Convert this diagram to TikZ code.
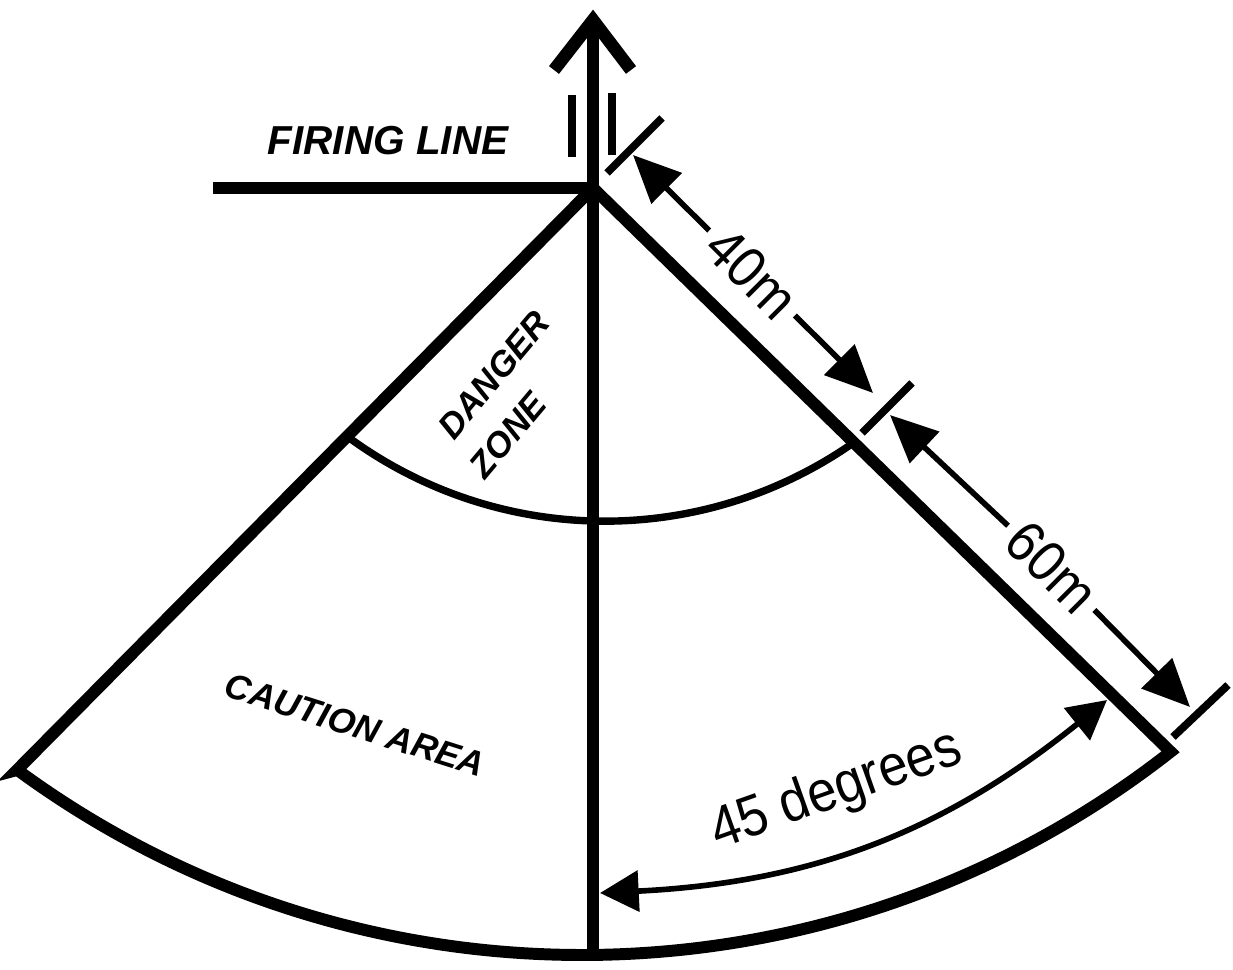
\documentclass[tikz,border=0pt]{standalone}
\usepackage{fontspec}
\setmainfont{Liberation Sans}
\usepackage{tikz}
\usetikzlibrary{arrows.meta}
\newcommand{\narrowtxt}[1]{\scalebox{0.9}[1]{#1}}
\tikzset{
  sectoredge/.style={line width=3.4pt, line join=miter},
  axisline/.style={line width=3.6pt, line join=miter},
  zonearc/.style={line width=2.1pt},
  tickmark/.style={line width=2.2pt},
  dimflow/.style={-{Triangle[length=13.5pt, width=12pt]}, line width=1.6pt},
  angleflow/.style={{Triangle[length=11pt, width=11.5pt]}-{Triangle[length=11pt, width=11.5pt]}, line width=1.6pt},
  arealbl/.style={font=\fontsize{10}{12}\selectfont\bfseries\itshape, inner sep=0pt},
  firinglbl/.style={font=\fontsize{11.5}{13}\selectfont\bfseries\itshape, inner sep=0pt},
  dimlbl/.style={font=\fontsize{16.5}{19}\selectfont, inner sep=2.5pt}
}

\begin{document}
\begin{tikzpicture}[x=0.01cm, y=0.01cm]
\useasboundingbox (0,0) rectangle (1233,-970);

% sector outline and danger zone boundary
\coordinate (apex) at (593,-188);
\coordinate (cL) at (17,-770);
\coordinate (cR) at (1170.6,-751.8);
\coordinate (zL) at (348,-437);
\draw[sectoredge] (cL) -- (apex) -- (cR) arc[start angle=308.1, end angle=233.7, radius=953.9] -- cycle;
\draw[zonearc] (zL) arc[start angle=233.7, end angle=304.9, radius=433.7];

% centre line with arrow
\coordinate (top) at (593,-20);
\coordinate (bottom) at (593,-955);
\coordinate (headL) at (554,-70);
\coordinate (headR) at (631,-70);
\draw[axisline] (top) -- (bottom);
\draw[axisline] (headL) -- (top) -- (headR);
\draw[tickmark, line width=2pt] (572,-95) -- (572,-157);
\draw[tickmark, line width=2pt] (612,-93) -- (612,-155);

% firing line
\coordinate (fireL) at (213,-188);
\draw[sectoredge] (fireL) -- (apex);
\node[firinglbl] (firing) at (388,-141) {FIRING LINE};

\node[arealbl, rotate=50] (danger) at (494,-375) {DANGER};
\node[arealbl, rotate=50] (zone) at (508,-435) {ZONE};
\node[arealbl, rotate=-17.6] (caution) at (355,-725) {CAUTION AREA};

% distances along the edge
\coordinate (t1a) at (607,-173);
\coordinate (t1b) at (662,-118);
\coordinate (t2a) at (862,-433);
\coordinate (t2b) at (912,-383);
\coordinate (t3a) at (1173,-737);
\coordinate (t3b) at (1228,-685);
\draw[tickmark] (t1a) -- (t1b);
\draw[tickmark] (t2a) -- (t2b);
\draw[tickmark] (t3a) -- (t3b);

\coordinate (d40a) at (633,-155);
\coordinate (d40b) at (873,-393);
\coordinate (d60a) at (890,-415);
\coordinate (d60b) at (1190,-707);
\node[dimlbl, rotate=-45] (len40) at (752,-273) {\narrowtxt{40m}};
\node[dimlbl, rotate=-45] (len60) at (1052,-567) {\narrowtxt{60m}};
\draw[dimflow] (len40) -- (d40a);
\draw[dimflow] (len40) -- (d40b);
\draw[dimflow] (len60) -- (d60a);
\draw[dimflow] (len60) -- (d60b);

% angle
\coordinate (ang1) at (600,-893);
\coordinate (ang2) at (1107,-700);
\draw[angleflow] (ang1) to[bend right=18] node[dimlbl, sloped, above=6pt, pos=0.47] (deg45) {\narrowtxt{45 degrees}} (ang2);
\end{tikzpicture}
\end{document}
